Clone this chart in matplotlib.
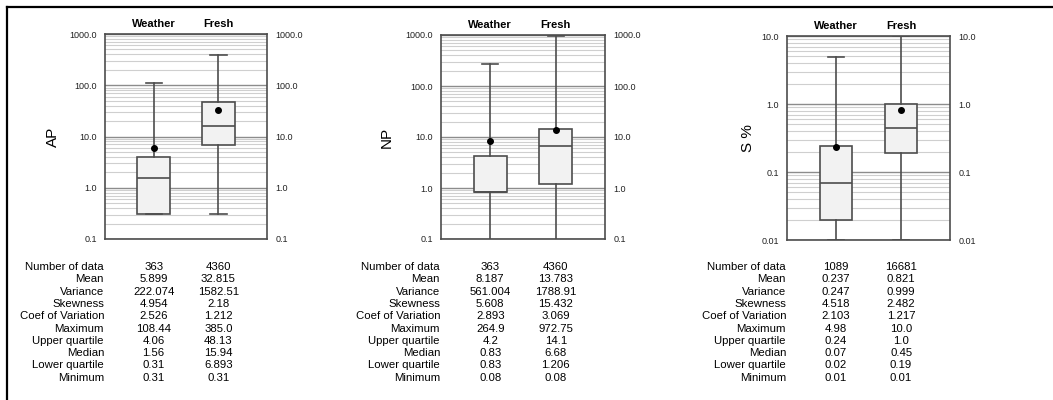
import matplotlib
matplotlib.use('Agg')
import matplotlib.pyplot as plt
from matplotlib.lines import Line2D
from matplotlib.ticker import FixedLocator, LogLocator, NullFormatter

plt.rcParams['font.family'] = ['Liberation Sans', 'DejaVu Sans']

groups = ['Weather', 'Fresh']
row_names = ['Number of data', 'Mean', 'Variance', 'Skewness', 'Coef of Variation',
             'Maximum', 'Upper quartile', 'Median', 'Lower quartile', 'Minimum']

# per panel: variable name, y limits, tick labels, stats table (as printed)
ap_label = 'AP'
ap_ticks = [0.1, 1.0, 10.0, 100.0, 1000.0]
ap_ticklabels = ['0.1', '1.0', '10.0', '100.0', '1000.0']
ap_weather = ['363', '5.899', '222.074', '4.954', '2.526', '108.44', '4.06', '1.56', '0.31', '0.31']
ap_fresh = ['4360', '32.815', '1582.51', '2.18', '1.212', '385.0', '48.13', '15.94', '6.893', '0.31']

np_label = 'NP'
np_ticks = [0.1, 1.0, 10.0, 100.0, 1000.0]
np_ticklabels = ['0.1', '1.0', '10.0', '100.0', '1000.0']
np_weather = ['363', '8.187', '561.004', '5.608', '2.893', '264.9', '4.2', '0.83', '0.83', '0.08']
np_fresh = ['4360', '13.783', '1788.91', '15.432', '3.069', '972.75', '14.1', '6.68', '1.206', '0.08']

s_label = 'S %'
s_ticks = [0.01, 0.1, 1.0, 10.0]
s_ticklabels = ['0.01', '0.1', '1.0', '10.0']
s_weather = ['1089', '0.237', '0.247', '4.518', '2.103', '4.98', '0.24', '0.07', '0.02', '0.01']
s_fresh = ['16681', '0.821', '0.999', '2.482', '1.217', '10.0', '1.0', '0.45', '0.19', '0.01']

panels = [
    (ap_label, ap_ticks, ap_ticklabels, ap_weather, ap_fresh),
    (np_label, np_ticks, np_ticklabels, np_weather, np_fresh),
    (s_label, s_ticks, s_ticklabels, s_weather, s_fresh),
]

W, H = 1053, 400
fig = plt.figure(figsize=(W / 100, H / 100), dpi=100)

# axes boxes in pixels: left, right, top, bottom
ax_px = [(105, 267, 34, 239), (441, 605, 35, 239), (787, 950, 36, 240)]
ylabel_px = [60, 394, 755]


def make_stats(vals):
    v = [float(x) for x in vals]
    return {'mean': v[1], 'whishi': v[5], 'q3': v[6], 'med': v[7],
            'q1': v[8], 'whislo': v[9], 'fliers': []}


for i, (label, ticks, ticklabels, weather, fresh) in enumerate(panels):
    l, r, t, b = ax_px[i]
    ax = fig.add_axes([l / W, 1 - b / H, (r - l) / W, (b - t) / H])
    ax.set_yscale('log')

    stats = [make_stats(weather), make_stats(fresh)]
    ax.bxp(stats, positions=[1, 2], widths=0.5, capwidths=0.25,
           showmeans=True, patch_artist=True, zorder=3,
           boxprops=dict(facecolor='#f2f2f2', edgecolor='#4d4d4d', linewidth=1.2),
           medianprops=dict(color='#4d4d4d', linewidth=1.2),
           whiskerprops=dict(color='#4d4d4d', linewidth=1.2),
           capprops=dict(color='#4d4d4d', linewidth=1.2),
           meanprops=dict(marker='o', markerfacecolor='black', markeredgecolor='black',
                          markersize=4))

    ax.set_xlim(0.25, 2.75)
    ax.set_ylim(ticks[0], ticks[-1])
    ax.set_xticks([])
    ax.yaxis.set_major_locator(FixedLocator(ticks))
    ax.set_yticklabels(ticklabels)
    ax.yaxis.set_minor_locator(LogLocator(base=10, subs=range(2, 10)))
    ax.yaxis.set_minor_formatter(NullFormatter())
    ax.tick_params(axis='y', which='both', length=0, labelsize=6.5, pad=6,
                   labelright=True, labelcolor='#222222')
    ax.grid(True, which='major', axis='y', color='#8c8c8c', linewidth=1.0, zorder=0)
    ax.grid(True, which='minor', axis='y', color='#cfcfcf', linewidth=0.8, zorder=0)
    ax.set_axisbelow(True)
    for sp in ax.spines.values():
        sp.set_color('#4d4d4d')
        sp.set_linewidth(1.2)

    ax.set_ylabel(label, fontsize=11)
    ax.yaxis.set_label_coords(-(l - ylabel_px[i]) / (r - l), 0.5)

    for pos, g in zip([1, 2], groups):
        ax.text(pos, 1.05, g, transform=ax.get_xaxis_transform(), ha='center',
                va='center', fontsize=8, fontweight='bold')

    # statistics table below
    row_y0, row_dy = 267, 12.3
    for k, name in enumerate(row_names):
        y = 1 - (row_y0 + k * row_dy) / H
        fig.text((l - 1) / W, y, name, ha='right', va='center', fontsize=8.2)
        for pos, col in zip([1, 2], [weather, fresh]):
            xpx = l + (pos - 0.25) / 2.5 * (r - l)
            fig.text(xpx / W, y, col[k], ha='center', va='center', fontsize=8.2)

# outer frame (top and left edges visible)
fig.add_artist(Line2D([7 / W, 1], [1 - 7 / H, 1 - 7 / H], transform=fig.transFigure,
                      color='black', linewidth=1.6))
fig.add_artist(Line2D([7 / W, 7 / W], [0, 1 - 7 / H], transform=fig.transFigure,
                      color='black', linewidth=1.6))

fig.savefig('out.png', dpi=100)
